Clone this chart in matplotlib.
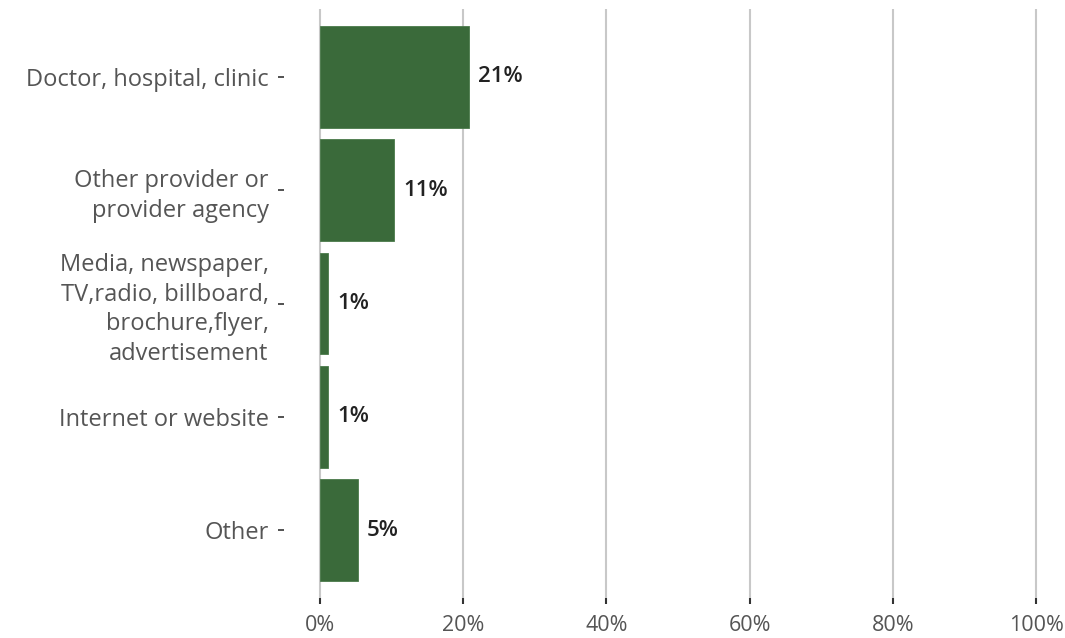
import matplotlib
matplotlib.use("Agg")
import matplotlib.pyplot as plt

categories = [
    "Doctor, hospital, clinic",
    "Other provider or\nprovider agency",
    "Media, newspaper,\nTV,radio, billboard,\nbrochure,flyer,\nadvertisement",
    "Internet or website",
    "Other",
]
values = [20.8, 10.4, 1.1, 1.1, 5.3]
value_labels = ["21%", "11%", "1%", "1%", "5%"]
x_ticks = [0, 20, 40, 60, 80, 100]
x_tick_labels = ["0%", "20%", "40%", "60%", "80%", "100%"]

plt.rcParams['font.family'] = ['Open Sans', 'DejaVu Sans']

W, H = 1065, 638
fig = plt.figure(figsize=(W / 100, H / 100), dpi=100)
ax = fig.add_axes([284 / W, 40 / H, 788 / W, 589 / H])

ypos = list(range(len(categories)))
ax.barh(ypos, values, height=0.9, color="#3a6a3a", edgecolor="#4a7a4a", linewidth=0.6, zorder=3)
ax.set_ylim(len(categories) - 0.4, -0.6)
ax.set_xlim(-5, 105)

ax.set_xticks(x_ticks)
ax.set_xticklabels(x_tick_labels, fontsize=15.5, color="#555555")
ax.set_yticks(ypos)
ax.set_yticklabels(categories, fontsize=17, color="#555555", linespacing=1.32)

ax.grid(axis="x", color="#c8c8c8", linewidth=1.5, zorder=0)
ax.grid(axis="y", visible=False)
for s in ax.spines.values():
    s.set_visible(False)
ax.tick_params(axis="x", length=4, width=1.5, color="#333333", pad=8)
ax.tick_params(axis="y", length=4, width=1.2, color="#333333", pad=7)

for y, v, lab in zip(ypos, values, value_labels):
    ax.text(v + 1.3, y, lab, va="center", ha="left", fontsize=16, color="#222222",
            fontweight="semibold")

fig.savefig("out.png", dpi=100, facecolor="white")
